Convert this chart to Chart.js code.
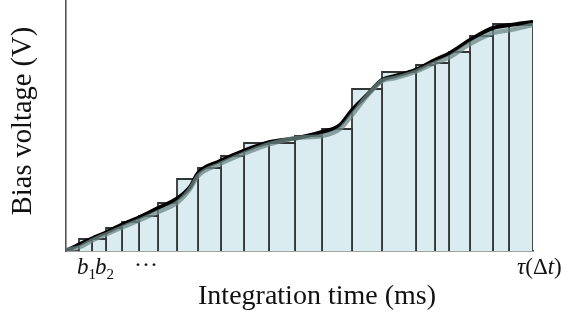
<!DOCTYPE html>
<html>
<head>
<meta charset="utf-8">
<script src="https://cdn.jsdelivr.net/npm/chart.js@4"></script>
<style>
  html, body { margin:0; padding:0; background:#fff; }
  #box { width:571px; height:324px; position:relative; }
</style>
</head>
<body>
<div id="box"><canvas id="chart"></canvas></div>
<script>
// ===== data (x: time units, y: voltage units) =====
const binEdges   = [13, 26, 40, 56, 73, 92, 111, 132, 155, 178, 203, 229, 256, 286, 316, 350, 369, 383, 404, 427, 443, 467];
const binHeights = [12, 12, 23, 29, 35, 48, 72, 83, 95, 108, 108, 115, 122, 162, 179, 186, 188, 199, 215, 227, 226];

const curveX     = [0, 14, 27, 41, 57, 74, 92, 112, 124, 132, 154, 177, 204, 231, 256, 274, 286, 301, 316, 329, 349, 369, 384, 404, 427, 444, 466];
const blackY     = [0, 7, 13, 19, 27, 34, 43, 53, 64, 78, 90, 100, 109, 113, 119, 126, 141, 156, 171, 175, 181, 191, 198, 211, 223, 226, 229];
const grayY      = [1, 4, 11, 17, 24, 31, 39, 49, 62, 75, 87, 97, 107, 113, 115, 122, 136, 155, 170, 173, 179, 188, 194, 207, 218, 221, 226];

const xTitle = 'Integration time (ms)';
const yTitle = 'Bias voltage (V)';

// ===== datasets =====
const barSets = binHeights.map((h, i) => {
  const x0 = binEdges[i], x1 = binEdges[i+1];
  return {
    data: [{x:x0,y:0},{x:x0,y:h},{x:x1,y:h},{x:x1,y:0}],
    showLine: true, fill: 'origin', tension: 0,
    backgroundColor: '#dbecf0', borderColor: '#333637', borderWidth: 1.8,
    pointRadius: 0, order: 3
  };
});
const mkCurve = (ys, color, w, order) => ({
  data: curveX.map((x, i) => ({x, y: ys[i]})),
  showLine: true, fill: false, cubicInterpolationMode: 'monotone',
  borderColor: color, borderWidth: w, pointRadius: 0, order,
  borderCapStyle: 'round', borderJoinStyle: 'round'
});

// ===== text plugin =====
const textPlugin = {
  id: 'texts',
  afterDraw(chart) {
    const { ctx, scales: { x } } = chart;
    ctx.save();
    ctx.fillStyle = '#111';
    // axis titles
    ctx.font = '28px "Liberation Serif", serif';
    ctx.textAlign = 'center'; ctx.textBaseline = 'middle';
    ctx.fillText(xTitle, 317, 297);
    ctx.translate(24, 121); ctx.rotate(-Math.PI/2);
    ctx.font = '28.5px "Liberation Serif", serif';
    ctx.fillText(yTitle, 0, 0);
    ctx.setTransform(1,0,0,1,0,0);
    // tick labels
    ctx.textAlign = 'left'; ctx.textBaseline = 'alphabetic';
    const base = 274;
    let px = x.getPixelForValue(binEdges[0]) - 2;
    for (const sub of ['1','2']) {
      ctx.font = 'italic 23px "Liberation Serif", serif';
      ctx.fillText('b', px, base);
      px += ctx.measureText('b').width;
      ctx.font = '15px "Liberation Serif", serif';
      ctx.fillText(sub, px, base + 5);
      px += ctx.measureText(sub).width - 1;
    }
    ctx.font = '24px "Liberation Serif", serif';
    ctx.fillText('\u00b7\u00b7\u00b7', 134, base - 2);
    // tau(Δt)
    let tx = 517;
    const parts = [['italic ', '\u03c4'], ['', '('], ['', '\u0394'], ['italic ', 't'], ['', ')']];
    for (const [st, s] of parts) {
      ctx.font = st + '23px "Liberation Serif", serif';
      ctx.fillText(s, tx, base);
      tx += ctx.measureText(s).width;
    }
    ctx.restore();
  }
};

new Chart(document.getElementById('chart'), {
  type: 'scatter',
  data: { datasets: [mkCurve(grayY, 'rgba(110,135,135,0.75)', 4.5, 1), mkCurve(blackY, '#000', 4, 2), ...barSets] },
  options: {
    responsive: true, maintainAspectRatio: false, animation: false,
    layout: { padding: { left: 66, right: 38, top: 1, bottom: 73 } },
    plugins: { legend: { display: false }, tooltip: { enabled: false } },
    scales: {
      x: { type: 'linear', min: 0, max: 467,
           ticks: { display: false }, grid: { display: false, drawTicks: false },
           border: { display: true, color: '#444', width: 1.6 } },
      y: { type: 'linear', min: 0, max: 250,
           ticks: { display: false }, grid: { display: false, drawTicks: false },
           border: { display: true, color: '#555', width: 1.6 } }
    }
  },
  plugins: [textPlugin]
});
</script>
</body>
</html>
